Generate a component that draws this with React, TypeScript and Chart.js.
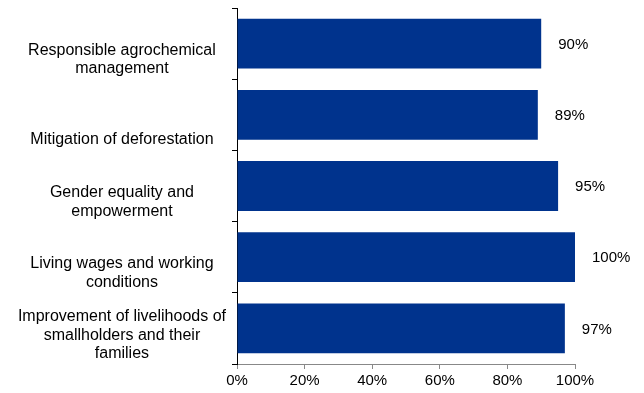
import React, { useEffect, useRef } from 'react';
import { Chart, registerables } from 'chart.js';

Chart.register(...registerables);

const categories: string[][] = [
  ['Responsible agrochemical', 'management'],
  ['', 'Mitigation of deforestation'],
  ['Gender equality and', 'empowerment'],
  ['Living wages and working', 'conditions'],
  ['Improvement of livelihoods of', 'smallholders and their', 'families', ''],
];
const values = [90, 89, 95, 100, 97];
const xTicks = [0, 20, 40, 60, 80, 100];

const BAR_COLOR = '#00338D';
const FONT = 'Liberation Sans, Arial, sans-serif';

const valueLabels = {
  id: 'valueLabels',
  afterDatasetsDraw(chart: any) {
    const ctx = chart.ctx;
    const meta = chart.getDatasetMeta(0);
    ctx.save();
    ctx.font = `15px ${FONT}`;
    ctx.fillStyle = '#000';
    ctx.textAlign = 'left';
    ctx.textBaseline = 'middle';
    meta.data.forEach((bar: any, i: number) => {
      ctx.fillText(values[i] + '%', bar.x + 17, bar.y + 1);
    });
    ctx.restore();
  },
};

export default function App() {
  const ref = useRef<HTMLCanvasElement>(null);
  useEffect(() => {
    if (!ref.current) return;
    const chart = new Chart(ref.current, {
      type: 'bar',
      data: {
        labels: categories,
        datasets: [
          {
            data: values,
            backgroundColor: BAR_COLOR,
            barPercentage: 0.7,
            categoryPercentage: 1,
          },
        ],
      },
      options: {
        indexAxis: 'y',
        animation: false,
        responsive: true,
        maintainAspectRatio: false,
        layout: { padding: { top: 8, right: 69, bottom: 0, left: 0 } },
        plugins: { legend: { display: false }, tooltip: { enabled: false } },
        scales: {
          x: {
            min: 0,
            max: 100,
            afterBuildTicks: (s: any) => {
              s.ticks = xTicks.map((v) => ({ value: v }));
            },
            afterFit: (s: any) => {
              s.height = 29;
              s.paddingLeft = 0;
              s.paddingRight = 0;
            },
            ticks: {
              callback: (v: any) => v + '%',
              color: '#000',
              font: { family: FONT, size: 15 },
              padding: 3,
              maxRotation: 0,
              autoSkip: false,
            },
            grid: { drawOnChartArea: false, tickLength: 5, color: '#888' },
            border: { color: '#888', width: 1 },
          },
          y: {
            afterFit: (s: any) => {
              s.width = 237;
              s.paddingTop = 0;
              s.paddingBottom = 0;
            },
            ticks: {
              color: '#000',
              font: { family: FONT, size: 16, lineHeight: 1.15 },
              crossAlign: 'center',
              labelOffset: 16,
              padding: 6,
              autoSkip: false,
            },
            grid: { drawOnChartArea: false, tickLength: 5, color: '#000', offset: true },
            border: { color: '#000', width: 1 },
          },
        },
      },
      plugins: [valueLabels],
    });
    return () => chart.destroy();
  }, []);
  return (
    <div style={{ position: 'fixed', left: 0, top: 0, width: 644, height: 393, background: '#fff' }}>
      <canvas ref={ref} />
    </div>
  );
}
